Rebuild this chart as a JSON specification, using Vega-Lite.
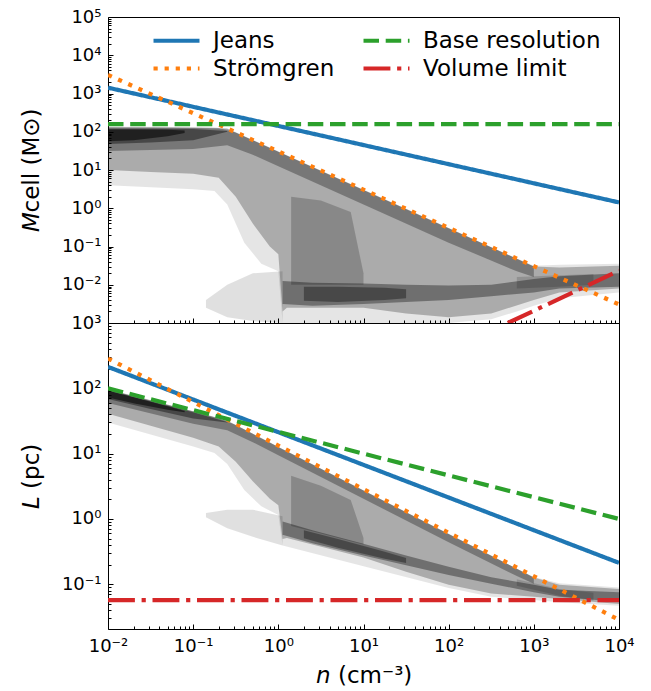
{
  "$schema": "https://vega.github.io/schema/vega-lite/v6.json",
  "padding": {"left": 19, "top": 7, "right": 5, "bottom": 0},
  "spacing": 0,
  "bounds": "flush",
  "datasets": {
    "heatTop": [
      {"g":"E","o":0.1,"n":0.01,"lo":3.981,"hi":134.9},
      {"g":"E","o":0.1,"n":0.03162,"lo":3.548,"hi":134.9},
      {"g":"E","o":0.1,"n":0.1,"lo":3.162,"hi":131.8},
      {"g":"E","o":0.1,"n":0.1778,"lo":2.818,"hi":128.8},
      {"g":"E","o":0.1,"n":0.2512,"lo":1.259,"hi":123},
      {"g":"E","o":0.1,"n":0.3981,"lo":0.1259,"hi":77.62},
      {"g":"E","o":0.1,"n":0.631,"lo":0.03548,"hi":48.98},
      {"g":"E","o":0.1,"n":1,"lo":0.02239,"hi":30.9},
      {"g":"E","o":0.1,"n":1.122,"lo":0.001,"hi":27.5},
      {"g":"E","o":0.1,"n":10,"lo":0.001,"hi":3.09},
      {"g":"E","o":0.1,"n":100,"lo":0.001,"hi":0.309},
      {"g":"E","o":0.1,"n":316.2,"lo":0.001259,"hi":0.09772},
      {"g":"E","o":0.1,"n":631,"lo":0.001995,"hi":0.04898},
      {"g":"E","o":0.1,"n":1000,"lo":0.002818,"hi":0.03162},
      {"g":"E","o":0.1,"n":1995,"lo":0.004467,"hi":0.03311},
      {"g":"E","o":0.1,"n":10000,"lo":0.00631,"hi":0.03548},
      {"g":"E2","o":0.12,"n":0.1413,"lo":0.002512,"hi":0.003981},
      {"g":"E2","o":0.12,"n":0.2512,"lo":0.001413,"hi":0.01},
      {"g":"E2","o":0.12,"n":0.5012,"lo":0.001122,"hi":0.01995},
      {"g":"E2","o":0.12,"n":1.122,"lo":0.001,"hi":0.02239},
      {"g":"B","o":0.25,"n":0.01,"lo":10,"hi":131.8},
      {"g":"B","o":0.25,"n":0.03162,"lo":8.913,"hi":131.8},
      {"g":"B","o":0.25,"n":0.1,"lo":7.943,"hi":128.8},
      {"g":"B","o":0.25,"n":0.1995,"lo":6.31,"hi":125.9},
      {"g":"B","o":0.25,"n":0.3162,"lo":1.995,"hi":95.5},
      {"g":"B","o":0.25,"n":0.5012,"lo":0.3981,"hi":60.26},
      {"g":"B","o":0.25,"n":0.7943,"lo":0.1,"hi":38.02},
      {"g":"B","o":0.25,"n":1,"lo":0.0631,"hi":30.2},
      {"g":"B","o":0.25,"n":1.122,"lo":0.002,"hi":26.9},
      {"g":"B","o":0.25,"n":1.259,"lo":0.002512,"hi":23.99},
      {"g":"B","o":0.25,"n":10,"lo":0.002512,"hi":3.02},
      {"g":"B","o":0.25,"n":31.62,"lo":0.001778,"hi":0.955},
      {"g":"B","o":0.25,"n":100,"lo":0.001413,"hi":0.302},
      {"g":"B","o":0.25,"n":316.2,"lo":0.001778,"hi":0.0955},
      {"g":"B","o":0.25,"n":1000,"lo":0.003981,"hi":0.0302},
      {"g":"B","o":0.25,"n":1995,"lo":0.00631,"hi":0.02818},
      {"g":"B","o":0.25,"n":10000,"lo":0.007943,"hi":0.03162},
      {"g":"S","o":0.3,"n":0.01,"lo":31.62,"hi":128.8},
      {"g":"S","o":0.3,"n":0.1,"lo":35.48,"hi":125.9},
      {"g":"S","o":0.3,"n":0.2512,"lo":44.67,"hi":120.2},
      {"g":"S","o":0.3,"n":0.5012,"lo":25.12,"hi":60.26},
      {"g":"S","o":0.3,"n":1,"lo":12.59,"hi":30.2},
      {"g":"S","o":0.3,"n":10,"lo":1.259,"hi":3.02},
      {"g":"S","o":0.3,"n":100,"lo":0.1259,"hi":0.302},
      {"g":"S","o":0.3,"n":631,"lo":0.02239,"hi":0.04786},
      {"g":"S","o":0.3,"n":1000,"lo":0.01585,"hi":0.0302},
      {"g":"D1","o":0.4,"n":0.01,"lo":47.86,"hi":120.2},
      {"g":"D1","o":0.4,"n":0.03162,"lo":52.48,"hi":120.2},
      {"g":"D1","o":0.4,"n":0.1,"lo":60.26,"hi":117.5},
      {"g":"D1","o":0.4,"n":0.2512,"lo":100,"hi":104.7},
      {"g":"D2","o":0.55,"n":0.01,"lo":56.23,"hi":114.8},
      {"g":"D2","o":0.55,"n":0.01995,"lo":60.26,"hi":114.8},
      {"g":"D2","o":0.55,"n":0.05012,"lo":75.86,"hi":112.2},
      {"g":"D2","o":0.55,"n":0.07943,"lo":93.33,"hi":107.2},
      {"g":"C","o":0.2,"n":1.413,"lo":0.01,"hi":1.995},
      {"g":"C","o":0.2,"n":3.162,"lo":0.01,"hi":1.585},
      {"g":"C","o":0.2,"n":7.079,"lo":0.01,"hi":0.7943},
      {"g":"C","o":0.2,"n":10,"lo":0.01,"hi":0.01995},
      {"g":"LB","o":0.35,"n":1.122,"lo":0.003162,"hi":0.01259},
      {"g":"LB","o":0.35,"n":2.512,"lo":0.002818,"hi":0.01122},
      {"g":"LB","o":0.35,"n":10,"lo":0.003162,"hi":0.01072},
      {"g":"LB","o":0.35,"n":31.62,"lo":0.003548,"hi":0.01},
      {"g":"LB","o":0.35,"n":100,"lo":0.003981,"hi":0.00955},
      {"g":"LB","o":0.35,"n":316.2,"lo":0.005012,"hi":0.01},
      {"g":"LB","o":0.35,"n":1000,"lo":0.00631,"hi":0.01413},
      {"g":"LB","o":0.35,"n":1995,"lo":0.007943,"hi":0.0166},
      {"g":"LB","o":0.35,"n":10000,"lo":0.008913,"hi":0.01995},
      {"g":"LC","o":0.35,"n":1.995,"lo":0.003802,"hi":0.008913},
      {"g":"LC","o":0.35,"n":5.012,"lo":0.003548,"hi":0.008913},
      {"g":"LC","o":0.35,"n":17.78,"lo":0.003981,"hi":0.008318},
      {"g":"LC","o":0.35,"n":31.62,"lo":0.004467,"hi":0.007586},
      {"g":"RB","o":0.15,"n":631,"lo":0.007943,"hi":0.01585},
      {"g":"RB","o":0.15,"n":1995,"lo":0.008913,"hi":0.01778},
      {"g":"RB","o":0.15,"n":5012,"lo":0.01,"hi":0.01905}
    ],
    "heatBot": [
      {"g":"E","o":0.1,"n":0.01,"lo":30.0,"hi":97.0},
      {"g":"E","o":0.1,"n":0.03162,"lo":19.6,"hi":66.1},
      {"g":"E","o":0.1,"n":0.1,"lo":12.9,"hi":44.7},
      {"g":"E","o":0.1,"n":0.1778,"lo":10.2,"hi":36.6},
      {"g":"E","o":0.1,"n":0.2512,"lo":6.97,"hi":32.1},
      {"g":"E","o":0.1,"n":0.3981,"lo":2.77,"hi":23.6},
      {"g":"E","o":0.1,"n":0.631,"lo":1.56,"hi":17.4},
      {"g":"E","o":0.1,"n":1,"lo":1.148,"hi":12.8},
      {"g":"E","o":0.1,"n":1.122,"lo":0.392,"hi":11.8},
      {"g":"E","o":0.1,"n":10,"lo":0.189,"hi":2.754},
      {"g":"E","o":0.1,"n":100,"lo":0.0877,"hi":0.593},
      {"g":"E","o":0.1,"n":316.2,"lo":0.0646,"hi":0.275},
      {"g":"E","o":0.1,"n":631,"lo":0.0598,"hi":0.174},
      {"g":"E","o":0.1,"n":1000,"lo":0.0575,"hi":0.129},
      {"g":"E","o":0.1,"n":1995,"lo":0.0533,"hi":0.104},
      {"g":"E","o":0.1,"n":10000,"lo":0.0468,"hi":0.0891},
      {"g":"E2","o":0.12,"n":0.1413,"lo":1.064,"hi":1.239},
      {"g":"E2","o":0.12,"n":0.2512,"lo":0.724,"hi":1.39},
      {"g":"E2","o":0.12,"n":0.5012,"lo":0.533,"hi":1.39},
      {"g":"E2","o":0.12,"n":1.122,"lo":0.392,"hi":1.1},
      {"g":"B","o":0.25,"n":0.01,"lo":40.7,"hi":96.2},
      {"g":"B","o":0.25,"n":0.03162,"lo":26.7,"hi":65.6},
      {"g":"B","o":0.25,"n":0.1,"lo":17.5,"hi":44.4},
      {"g":"B","o":0.25,"n":0.1995,"lo":12.9,"hi":34.9},
      {"g":"B","o":0.25,"n":0.3162,"lo":7.53,"hi":27.4},
      {"g":"B","o":0.25,"n":0.5012,"lo":3.78,"hi":20.1},
      {"g":"B","o":0.25,"n":0.7943,"lo":2.04,"hi":14.8},
      {"g":"B","o":0.25,"n":1,"lo":1.62,"hi":12.7},
      {"g":"B","o":0.25,"n":1.122,"lo":0.493,"hi":11.7},
      {"g":"B","o":0.25,"n":1.259,"lo":0.513,"hi":10.9},
      {"g":"B","o":0.25,"n":10,"lo":0.257,"hi":2.735},
      {"g":"B","o":0.25,"n":31.62,"lo":0.156,"hi":1.268},
      {"g":"B","o":0.25,"n":100,"lo":0.0984,"hi":0.589},
      {"g":"B","o":0.25,"n":316.2,"lo":0.0724,"hi":0.2735},
      {"g":"B","o":0.25,"n":1000,"lo":0.0646,"hi":0.1268},
      {"g":"B","o":0.25,"n":1995,"lo":0.0598,"hi":0.0984},
      {"g":"B","o":0.25,"n":10000,"lo":0.0501,"hi":0.0851},
      {"g":"S","o":0.3,"n":0.01,"lo":59.8,"hi":95.5},
      {"g":"S","o":0.3,"n":0.1,"lo":28.8,"hi":44.0},
      {"g":"S","o":0.3,"n":0.2512,"lo":22.9,"hi":31.8},
      {"g":"S","o":0.3,"n":0.5012,"lo":15.0,"hi":20.1},
      {"g":"S","o":0.3,"n":1,"lo":9.48,"hi":12.7},
      {"g":"S","o":0.3,"n":10,"lo":2.04,"hi":2.735},
      {"g":"S","o":0.3,"n":100,"lo":0.44,"hi":0.589},
      {"g":"S","o":0.3,"n":631,"lo":0.134,"hi":0.1726},
      {"g":"S","o":0.3,"n":1000,"lo":0.1023,"hi":0.1268},
      {"g":"D1","o":0.4,"n":0.01,"lo":68.7,"hi":93.3},
      {"g":"D1","o":0.4,"n":0.03162,"lo":48.2,"hi":63.5},
      {"g":"D1","o":0.4,"n":0.1,"lo":34.4,"hi":43.0},
      {"g":"D1","o":0.4,"n":0.2512,"lo":30.0,"hi":30.4},
      {"g":"D2","o":0.55,"n":0.01,"lo":72.4,"hi":91.8},
      {"g":"D2","o":0.55,"n":0.01995,"lo":58.9,"hi":72.9},
      {"g":"D2","o":0.55,"n":0.05012,"lo":46.8,"hi":53.3},
      {"g":"D2","o":0.55,"n":0.07943,"lo":43.0,"hi":45.0},
      {"g":"C","o":0.2,"n":1.413,"lo":0.782,"hi":4.57},
      {"g":"C","o":0.2,"n":3.162,"lo":0.598,"hi":3.24},
      {"g":"C","o":0.2,"n":7.079,"lo":0.457,"hi":1.96},
      {"g":"C","o":0.2,"n":10,"lo":0.407,"hi":0.513},
      {"g":"LB","o":0.35,"n":1.122,"lo":0.575,"hi":0.912},
      {"g":"LB","o":0.35,"n":2.512,"lo":0.424,"hi":0.671},
      {"g":"LB","o":0.35,"n":10,"lo":0.277,"hi":0.417},
      {"g":"LB","o":0.35,"n":31.62,"lo":0.196,"hi":0.277},
      {"g":"LB","o":0.35,"n":100,"lo":0.139,"hi":0.186},
      {"g":"LB","o":0.35,"n":316.2,"lo":0.1023,"hi":0.1288},
      {"g":"LB","o":0.35,"n":1000,"lo":0.0753,"hi":0.0984},
      {"g":"LB","o":0.35,"n":1995,"lo":0.0646,"hi":0.0826},
      {"g":"LB","o":0.35,"n":10000,"lo":0.0537,"hi":0.0759},
      {"g":"LC","o":0.35,"n":1.995,"lo":0.505,"hi":0.671},
      {"g":"LC","o":0.35,"n":5.012,"lo":0.363,"hi":0.493},
      {"g":"LC","o":0.35,"n":17.78,"lo":0.247,"hi":0.316},
      {"g":"LC","o":0.35,"n":31.62,"lo":0.212,"hi":0.253},
      {"g":"RB","o":0.15,"n":631,"lo":0.0948,"hi":0.1194},
      {"g":"RB","o":0.15,"n":1995,"lo":0.0671,"hi":0.0845},
      {"g":"RB","o":0.15,"n":5012,"lo":0.0562,"hi":0.0741}
    ],
    "linesTop": [
      {"s":"Jeans","n":0.01,"v":1420},
      {"s":"Jeans","n":10000,"v":1.42},
      {"s":"Strömgren","n":0.01,"v":3060},
      {"s":"Strömgren","n":10000,"v":0.00306},
      {"s":"Base resolution","n":0.01,"v":158},
      {"s":"Base resolution","n":10000,"v":158},
      {"s":"Volume limit","n":495,"v":0.001},
      {"s":"Volume limit","n":10000,"v":0.0234}
    ],
    "linesBot": [
      {"s":"Jeans","n":0.01,"v":213},
      {"s":"Jeans","n":10000,"v":0.213},
      {"s":"Strömgren","n":0.01,"v":286},
      {"s":"Strömgren","n":10000,"v":0.0286},
      {"s":"Base resolution","n":0.01,"v":100},
      {"s":"Base resolution","n":10000,"v":1.0},
      {"s":"Volume limit","n":0.01,"v":0.0573},
      {"s":"Volume limit","n":10000,"v":0.0573}
    ]
  },
  "vconcat": [
    {
      "width": 511,
      "height": 306,
      "layer": [
        {
          "data": {"name": "heatTop"},
          "mark": {"type": "area", "clip": true, "strokeWidth": 0},
          "encoding": {
            "x": {"field": "n", "type": "quantitative", "scale": {"type": "log", "domain": [0.01, 10000], "nice": false},
              "axis": {"orient": "bottom", "values": [0.01, 0.1, 1, 10, 100, 1000, 10000], "labels": false, "title": null, "tickSize": -5}},
            "y": {"field": "lo", "type": "quantitative", "stack": null, "scale": {"type": "log", "domain": [0.001, 100000], "nice": false},
              "axis": {"orient": "left", "values": [0.01, 0.1, 1, 10, 100, 1000, 10000, 100000], "tickSize": -5, "labelPadding": 12, "titlePadding": 18,
                "title": "𝘔cell (M⊙)",
                "labelExpr": "'10' + (datum.value < 0.99 ? '⁻' : '') + ['⁰','¹','²','³','⁴','⁵'][abs(round(log(datum.value)/LN10))]"}},
            "y2": {"field": "hi"},
            "detail": {"field": "g"},
            "fill": {"value": "#000000"},
            "fillOpacity": {"field": "o", "type": "quantitative", "scale": null}
          }
        },
        {
          "data": {"name": "linesTop"},
          "mark": {"type": "line", "clip": true, "strokeWidth": 4.2, "strokeCap": "butt"},
          "encoding": {
            "x": {"field": "n", "type": "quantitative", "scale": {"type": "log", "domain": [0.01, 10000], "nice": false},
              "axis": {"orient": "bottom", "values": [0.02,0.03,0.04,0.05,0.06,0.07,0.08,0.09,0.2,0.3,0.4,0.5,0.6,0.7,0.8,0.9,2,3,4,5,6,7,8,9,20,30,40,50,60,70,80,90,200,300,400,500,600,700,800,900,2000,3000,4000,5000,6000,7000,8000,9000], "labels": false, "title": null, "tickSize": -3}},
            "y": {"field": "v", "type": "quantitative", "scale": {"type": "log", "domain": [0.001, 100000], "nice": false},
              "axis": {"orient": "left", "values": [0.002,0.003,0.004,0.005,0.006,0.007,0.008,0.009,0.02,0.03,0.04,0.05,0.06,0.07,0.08,0.09,0.2,0.3,0.4,0.5,0.6,0.7,0.8,0.9,2,3,4,5,6,7,8,9,20,30,40,50,60,70,80,90,200,300,400,500,600,700,800,900,2000,3000,4000,5000,6000,7000,8000,9000,20000,30000,40000,50000,60000,70000,80000,90000], "labels": false, "title": null, "tickSize": -3}},
            "stroke": {"field": "s", "type": "nominal",
              "scale": {"domain": ["Jeans", "Strömgren", "Base resolution", "Volume limit"], "range": ["#1f77b4", "#ff7f0e", "#2ca02c", "#d62728"]},
              "legend": {"orient": "none", "legendX": 57, "legendY": 12, "columns": 2, "title": null, "symbolType": "M-3,0H3", "symbolSize": 235, "symbolStrokeWidth": 4.2, "labelFontSize": 23, "labelOffset": 25, "labelLimit": 400, "columnPadding": 20, "rowPadding": 4, "padding": 0}},
            "strokeDash": {"field": "s", "type": "nominal",
              "scale": {"domain": ["Jeans", "Strömgren", "Base resolution", "Volume limit"], "range": [[1, 0], [4.2, 6.9], [15.5, 6.7], [26.9, 6.7, 4.2, 6.7]]},
              "legend": {"orient": "none", "legendX": 57, "legendY": 12, "columns": 2, "title": null, "symbolType": "M-3,0H3", "symbolSize": 235, "symbolStrokeWidth": 4.2, "labelFontSize": 23, "labelOffset": 25, "labelLimit": 400, "columnPadding": 20, "rowPadding": 4, "padding": 0}}
          }
        }
      ],
      "resolve": {"axis": {"x": "independent", "y": "independent"}}
    },
    {
      "width": 511,
      "height": 306,
      "layer": [
        {
          "data": {"name": "heatBot"},
          "mark": {"type": "area", "clip": true, "strokeWidth": 0},
          "encoding": {
            "x": {"field": "n", "type": "quantitative", "scale": {"type": "log", "domain": [0.01, 10000], "nice": false},
              "axis": {"orient": "bottom", "values": [0.01, 0.1, 1, 10, 100, 1000, 10000], "tickSize": -5, "labelPadding": 13, "titlePadding": 9,
                "title": "𝘯 (cm⁻³)",
                "labelExpr": "'10' + (datum.value < 0.99 ? '⁻' : '') + ['⁰','¹','²','³','⁴','⁵'][abs(round(log(datum.value)/LN10))]"}},
            "y": {"field": "lo", "type": "quantitative", "stack": null, "scale": {"type": "log", "domain": [0.0207, 1000], "nice": false},
              "axis": {"orient": "left", "values": [0.1, 1, 10, 100, 1000], "tickSize": -5, "labelPadding": 12, "titlePadding": 18,
                "title": "𝘓 (pc)",
                "labelExpr": "'10' + (datum.value < 0.99 ? '⁻' : '') + ['⁰','¹','²','³','⁴','⁵'][abs(round(log(datum.value)/LN10))]"}},
            "y2": {"field": "hi"},
            "detail": {"field": "g"},
            "fill": {"value": "#000000"},
            "fillOpacity": {"field": "o", "type": "quantitative", "scale": null}
          }
        },
        {
          "data": {"name": "linesBot"},
          "mark": {"type": "line", "clip": true, "strokeWidth": 4.2, "strokeCap": "butt"},
          "encoding": {
            "x": {"field": "n", "type": "quantitative", "scale": {"type": "log", "domain": [0.01, 10000], "nice": false},
              "axis": {"orient": "bottom", "values": [0.02,0.03,0.04,0.05,0.06,0.07,0.08,0.09,0.2,0.3,0.4,0.5,0.6,0.7,0.8,0.9,2,3,4,5,6,7,8,9,20,30,40,50,60,70,80,90,200,300,400,500,600,700,800,900,2000,3000,4000,5000,6000,7000,8000,9000], "labels": false, "title": null, "tickSize": -3}},
            "y": {"field": "v", "type": "quantitative", "scale": {"type": "log", "domain": [0.0207, 1000], "nice": false},
              "axis": {"orient": "left", "values": [0.03,0.04,0.05,0.06,0.07,0.08,0.09,0.2,0.3,0.4,0.5,0.6,0.7,0.8,0.9,2,3,4,5,6,7,8,9,20,30,40,50,60,70,80,90,200,300,400,500,600,700,800,900], "labels": false, "title": null, "tickSize": -3}},
            "stroke": {"field": "s", "type": "nominal",
              "scale": {"domain": ["Jeans", "Strömgren", "Base resolution", "Volume limit"], "range": ["#1f77b4", "#ff7f0e", "#2ca02c", "#d62728"]},
              "legend": null},
            "strokeDash": {"field": "s", "type": "nominal",
              "scale": {"domain": ["Jeans", "Strömgren", "Base resolution", "Volume limit"], "range": [[1, 0], [4.2, 6.9], [15.5, 6.7], [26.9, 6.7, 4.2, 6.7]]},
              "legend": null}
          }
        }
      ],
      "resolve": {"axis": {"x": "independent", "y": "independent"}}
    }
  ],
  "resolve": {
    "scale": {"stroke": "independent", "strokeDash": "independent"},
    "legend": {"stroke": "independent", "strokeDash": "independent"}
  },
  "config": {
    "font": "DejaVu Sans",
    "view": {"stroke": "#000000", "strokeWidth": 1},
    "axis": {
      "labelFont": "DejaVu Sans", "titleFont": "DejaVu Sans",
      "labelFontSize": 18, "titleFontSize": 23, "titleFontWeight": "normal",
      "labelColor": "#000000", "titleColor": "#000000", "tickColor": "#000000", "tickWidth": 1,
      "grid": false, "domain": false, "labelFlush": false, "labelOverlap": false, "labelBound": false
    },
    "legend": {"labelFont": "DejaVu Sans", "labelColor": "#000000"}
  }
}
